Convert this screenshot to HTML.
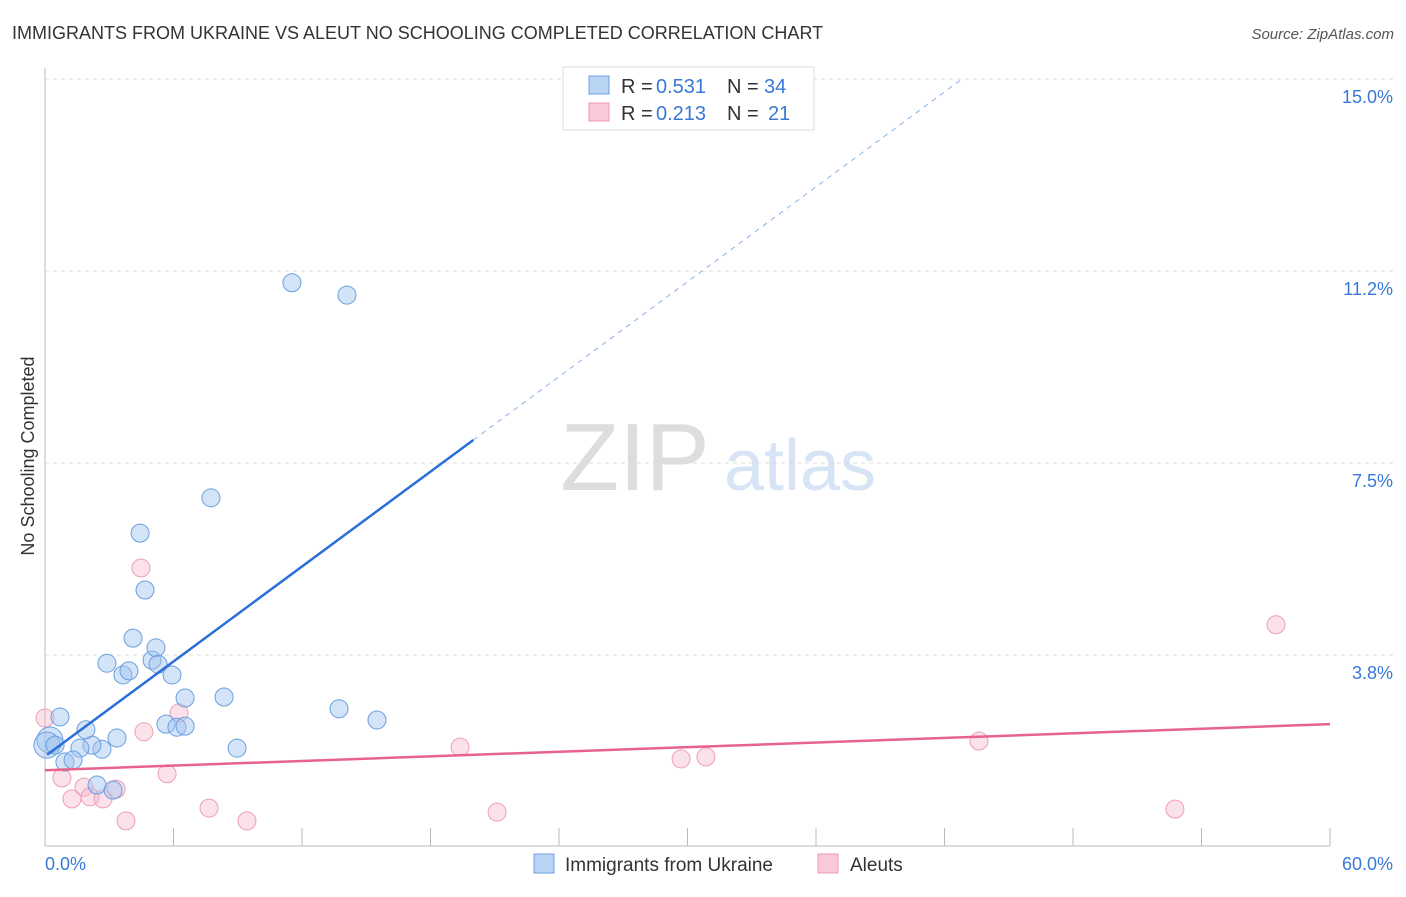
<!DOCTYPE html>
<html><head><meta charset="utf-8"><style>
body{margin:0;background:#fff;font-family:"Liberation Sans",sans-serif;}
svg text{font-family:"Liberation Sans",sans-serif;}
</style></head><body>
<svg width="1406" height="892" xmlns="http://www.w3.org/2000/svg">
<text x="12" y="39" font-size="18" fill="#333">IMMIGRANTS FROM UKRAINE VS ALEUT NO SCHOOLING COMPLETED CORRELATION CHART</text>
<text x="1394" y="39" font-size="15" fill="#555" text-anchor="end" font-style="italic">Source: ZipAtlas.com</text>
<text x="34" y="456" font-size="18" fill="#333" transform="rotate(-90 34 456)" text-anchor="middle">No Schooling Completed</text>
<g><text x="635" y="490" font-size="96" fill="#ddd" text-anchor="middle" font-family="Liberation Serif">ZIP</text><text x="800" y="490" font-size="72" fill="#d6e4f5" text-anchor="middle">atlas</text></g>
<g id="grid"></g><g id="marks"></g>
<g>
<rect x="563" y="67" width="251" height="63" fill="#fff" stroke="#ddd"/>
<rect x="589" y="76" width="20" height="18" fill="#b9d3f3" stroke="#6a9fe0"/>
<rect x="589" y="103" width="20" height="18" fill="#f9c9d7" stroke="#ec9ab4"/>
<text x="621" y="93" font-size="20" fill="#333">R =</text><text x="656" y="93" font-size="20" fill="#3a78d8">0.531</text><text x="727" y="93" font-size="20" fill="#333">N =</text><text x="764" y="93" font-size="20" fill="#3a78d8">34</text>
<text x="621" y="120" font-size="20" fill="#333">R =</text><text x="656" y="120" font-size="20" fill="#3a78d8">0.213</text><text x="727" y="120" font-size="20" fill="#333">N =</text><text x="768" y="120" font-size="20" fill="#3a78d8">21</text>
</g>
<g>
<rect x="534" y="854" width="20" height="19" fill="#b9d3f3" stroke="#6a9fe0"/>
<text x="565" y="871" font-size="19" fill="#333">Immigrants from Ukraine</text>
<rect x="818" y="854" width="20" height="19" fill="#f9c9d7" stroke="#ec9ab4"/>
<text x="850" y="871" font-size="19" fill="#333">Aleuts</text>
</g>
</svg>
<script>
const xTicks=[0,60];
const yTicks=[3.8,7.5,11.2,15.0];
const yTickVals=[3.75,7.5,11.25,15];
const blueX=[11.53,14.10,7.75,4.44,4.67,4.11,2.89,3.64,3.92,5.00,5.18,5.28,5.93,6.54,8.36,5.65,6.16,6.54,13.73,15.50,8.97,3.36,2.66,2.19,1.63,1.91,0.70,0.23,0.09,0.47,0.93,1.31,2.43,3.18];
const blueY=[11.02,10.78,6.82,6.13,5.02,4.08,3.59,3.36,3.44,3.65,3.89,3.57,3.36,2.91,2.93,2.40,2.34,2.36,2.70,2.48,1.93,2.13,1.91,1.99,1.93,2.29,2.54,2.09,1.99,1.99,1.66,1.70,1.21,1.11];
const pinkX=[0,4.48,6.26,4.62,19.38,29.70,30.86,43.61,57.48,52.76,21.11,7.66,9.43,3.78,5.70,0.79,1.26,1.82,2.10,2.71,3.32];
const pinkY=[2.52,5.45,2.62,2.25,1.95,1.72,1.76,2.07,4.34,0.74,0.68,0.76,0.51,0.51,1.43,1.35,0.94,1.17,0.98,0.94,1.13];
const blueTrend=[1.77,0.309];
const pinkTrend=[1.50,0.015];
const X=v=>45+v/60*1285, Y=v=>847-v/3.75*192;
const NS="http://www.w3.org/2000/svg";
function mk(t,a,p){const e=document.createElementNS(NS,t);for(const k in a)e.setAttribute(k,a[k]);p.appendChild(e);return e;}
const g=document.getElementById('grid'), m=document.getElementById('marks');
yTickVals.forEach((v,i)=>{
 const l=mk('line',{x1:45,x2:1394,y1:Y(v),y2:Y(v),stroke:'#ddd','stroke-dasharray':'4,4'},g);
 
 
 const t=mk('text',{x:1393,y:Y(v)+24,'font-size':18,fill:'#3a78d8','text-anchor':'end'},g);t.textContent=yTicks[i].toFixed(1)+'%';
 
 
});
const ax=mk('line',{x1:45,x2:45,y1:68,y2:846,stroke:'#bbb'},g);


const bx=mk('line',{x1:45,x2:1330,y1:846,y2:846,stroke:'#bbb'},g);


for(let i=1;i<=10;i++){const t=mk('line',{x1:X(i*6),x2:X(i*6),y1:828,y2:846,stroke:'#bbb'},g);
 
 }
xTicks.forEach((v,i)=>{const t=mk('text',{x:i?1393:45,y:870,'font-size':18,fill:'#3a78d8','text-anchor':i?'end':'start'},g);t.textContent=v.toFixed(1)+'%';
 
 });
function pts(xs,ys,f,s,name){xs.forEach((x,i)=>{const big=(name==='blue-point'&&(i===27||i===28));
 const c=mk('circle',{cx:X(x),cy:Y(ys[i]),r:big?13:9,fill:f,stroke:s,'stroke-width':1},m);
 
 });}
pts(pinkX,pinkY,'rgba(246,180,200,0.4)','#ee9fb8','pink-point');
pts(blueX,blueY,'rgba(160,195,240,0.45)','#6a9fe0','blue-point');
const bEnd=(15-blueTrend[0])/blueTrend[1];
const b1=mk('line',{x1:X(0.1),y1:Y(blueTrend[0]+blueTrend[1]*0.1),x2:X(20),y2:Y(blueTrend[0]+blueTrend[1]*20),stroke:'#2a6fd8','stroke-width':2.5},m);


const b2=mk('line',{x1:X(20),y1:Y(blueTrend[0]+blueTrend[1]*20),x2:X(bEnd),y2:Y(15),stroke:'#8ab0e6','stroke-width':1,'stroke-dasharray':'5,5'},m);


const p1=mk('line',{x1:X(0),y1:Y(pinkTrend[0]),x2:X(60),y2:Y(pinkTrend[0]+pinkTrend[1]*60),stroke:'#e8628e','stroke-width':2.5},m);


</script>
</body></html>
